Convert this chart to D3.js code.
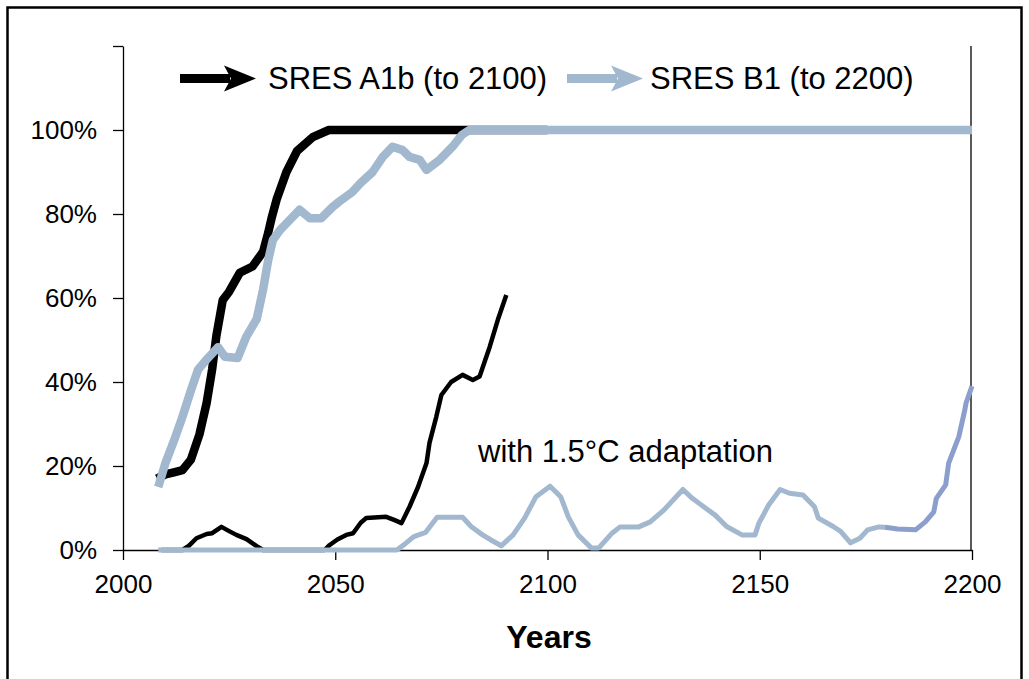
<!DOCTYPE html>
<html>
<head>
<meta charset="utf-8">
<script src="https://cdn.jsdelivr.net/npm/d3@7"></script>
<style>
	body { margin: 0; background: #fff; }
	svg text { font-family: "Liberation Sans", Arial, Helvetica, sans-serif; fill: #000; }
</style>
</head>
<body>
<svg id="chart" width="1029" height="679"></svg>
<script>
'use strict';

var BLACK = "#000000";
var BLUE = "#a1b8cf";
var PURPLE = "#8c9ecb";

// x axis / y axis ticks
var yearTicks = [2000, 2050, 2100, 2150, 2200];
var pctTicks = [0, 20, 40, 60, 80, 100, 120];

// SRES A1b (to 2100), no adaptation
var a1bYears = [2008, 2010, 2012, 2014, 2016, 2018, 2019.7, 2021, 2022, 2023.5, 2025, 2027.5, 2030.5, 2033, 2034.2, 2035, 2036.2, 2038.5, 2041, 2044.7, 2048.5, 2100];
var a1bValues = [17, 18, 18.5, 19, 21.5, 27.5, 35, 43, 51, 59.5, 61.5, 66, 67.5, 71, 75.5, 79, 83.5, 90, 95, 98.3, 100, 100];

// SRES B1 (to 2200), no adaptation
var b1Years = [2008.3, 2010, 2012, 2014, 2016, 2017.7, 2020, 2022.4, 2024, 2027, 2029, 2031.5, 2033, 2034.2, 2035.3, 2037, 2039.3, 2041.6, 2044, 2046.7, 2049.4, 2051, 2054, 2056, 2058.8, 2061.2, 2063.5, 2065.9, 2067.5, 2069.9, 2071.5, 2074.6, 2077.6, 2079.8, 2081.6, 2200];
var b1Values = [15, 20.7, 26, 31.7, 38, 43, 45.7, 48.3, 46, 45.7, 50.7, 55, 62, 69, 73.8, 76.2, 78.6, 81, 79, 79, 81.7, 83, 85.2, 87.4, 90, 93.6, 96, 95.2, 93.6, 92.9, 90.5, 92.9, 96, 98.8, 100, 100];

// A1b with 1.5°C adaptation
var a1bAdaptYears = [2009, 2014, 2015.5, 2017.3, 2019.7, 2021, 2023.2, 2025, 2026.7, 2029.1, 2031.8, 2033, 2047.5, 2048.7, 2050.5, 2052.6, 2054.2, 2056, 2057.3, 2062, 2064, 2065.6, 2067.5, 2069.5, 2071.5, 2072.2, 2073.8, 2075, 2077.3, 2080, 2082.4, 2084, 2086.4, 2088.3, 2090.3];
var a1bAdaptValues = [0, 0, 1, 2.8, 3.8, 4, 5.5, 4.5, 3.6, 2.6, 0.7, 0, 0, 1.2, 2.5, 3.6, 4, 6.5, 7.6, 7.9, 7.1, 6.4, 10.3, 15, 20.7, 25.5, 31.7, 36.9, 40, 41.7, 40.5, 41.3, 48.4, 54.8, 60.7];

// B1 with 1.5°C adaptation
var b1AdaptYears = [2008.3, 2064.5, 2066.5, 2068.5, 2071.3, 2074, 2080, 2082, 2084.7, 2087, 2089.1, 2091.9, 2094.6, 2097.3, 2100.6, 2103.1, 2104.9, 2107.2, 2110.3, 2112.1, 2115.2, 2117.1, 2121.5, 2124.2, 2127.4, 2131.9, 2134.1, 2136.8, 2139.5, 2142.2, 2145.8, 2148.9, 2149.8, 2152.1, 2154.8, 2157, 2160.2, 2162.9, 2163.8, 2167.3, 2169.1, 2171.4, 2173.6, 2175.4, 2178.1, 2179.5];
var b1AdaptValues = [0, 0, 1.5, 3.2, 4.2, 7.8, 7.8, 5.6, 3.6, 2.2, 1, 3.6, 7.6, 12.7, 15.2, 12.7, 7.9, 3.6, 0.5, 0.5, 4, 5.5, 5.5, 6.7, 9.5, 14.4, 12.3, 10.3, 8.3, 5.6, 3.6, 3.6, 6.4, 10.7, 14.4, 13.5, 13.1, 10.3, 7.6, 5.6, 4.4, 1.7, 2.8, 4.8, 5.5, 5.4];

// last stretch of the adaptation curve (drawn in a different tint)
var tailYears = [2179.5, 2182.5, 2186.7, 2189, 2191, 2191.6, 2193.8, 2194.5, 2196.9, 2198.3, 2198.6, 2200];
var tailValues = [5.4, 5, 4.8, 6.7, 9.1, 12.3, 15.5, 20.7, 27, 33.3, 35, 39];

var legendLabels = ["SRES A1b (to 2100)", "SRES B1 (to 2200)"];

var svg = d3.select("#chart");

var x = d3.scaleLinear()
	.domain([2000, 2200])
	.range([123, 972]);

var y = d3.scaleLinear()
	.domain([0, 120])
	.range([550, 46]);

// outer frame
svg.append("rect")
	.attr("x", 7.5)
	.attr("y", 7.5)
	.attr("width", 1014)
	.attr("height", 700)
	.attr("fill", "none")
	.attr("stroke", "#000")
	.attr("stroke-width", 2.5);

// axes
var yAxis = svg.append("g")
	.attr("transform", "translate(" + x(2000) + ",0)")
	.call(d3.axisLeft(y)
		.tickValues(pctTicks)
		.tickSize(10)
		.tickSizeOuter(0)
		.tickPadding(16)
		.tickFormat(function (d) { return d === 120 ? "" : d + "%"; }));

var xAxis = svg.append("g")
	.attr("transform", "translate(0," + y(0) + ")")
	.call(d3.axisBottom(x)
		.tickValues(yearTicks)
		.tickSize(10)
		.tickSizeOuter(0)
		.tickPadding(15)
		.tickFormat(d3.format("d")));

[yAxis, xAxis].forEach(function (g) {
	g.attr("font-family", null).attr("font-size", null);
	g.selectAll("path, line").attr("stroke", "#000").attr("stroke-width", 1.3);
	g.selectAll("text").style("font-size", "26px");
});

// right-hand border of the plot
svg.append("line")
	.attr("x1", x(2200) - 1)
	.attr("x2", x(2200) - 1)
	.attr("y1", y(120))
	.attr("y2", y(0))
	.attr("stroke", "#000")
	.attr("stroke-width", 1.3);

var line = d3.line()
	.x(function (d) { return x(d[0]); })
	.y(function (d) { return y(d[1]); });

function drawSeries(years, values, color, width) {
	svg.append("path")
		.datum(d3.zip(years, values))
		.attr("d", line)
		.attr("fill", "none")
		.attr("stroke", color)
		.attr("stroke-width", width)
		.attr("stroke-linejoin", "round")
		.attr("stroke-linecap", "butt");
}

drawSeries(a1bAdaptYears, a1bAdaptValues, BLACK, 4.5);
drawSeries(b1AdaptYears, b1AdaptValues, BLUE, 5);
drawSeries(tailYears, tailValues, PURPLE, 5);
drawSeries(a1bYears, a1bValues, BLACK, 8.5);
drawSeries(b1Years, b1Values, BLUE, 8.5);

// legend
function legendArrow(x0, yc, color) {
	svg.append("line")
		.attr("x1", x0)
		.attr("x2", x0 + 50)
		.attr("y1", yc)
		.attr("y2", yc)
		.attr("stroke", color)
		.attr("stroke-width", 9);
	svg.append("path")
		.attr("d", "M" + (x0 + 44) + "," + (yc - 13) +
			"L" + (x0 + 76) + "," + yc +
			"L" + (x0 + 44) + "," + (yc + 13) +
			"L" + (x0 + 51) + "," + yc + "Z")
		.attr("fill", color);
}

legendArrow(180, 78.5, BLACK);
legendArrow(567, 78.5, BLUE);

svg.append("text")
	.attr("x", 268)
	.attr("y", 89)
	.style("font-size", "31px")
	.text(legendLabels[0]);

svg.append("text")
	.attr("x", 650)
	.attr("y", 89)
	.style("font-size", "31px")
	.text(legendLabels[1]);

// annotation
svg.append("text")
	.attr("x", 478)
	.attr("y", 462)
	.style("font-size", "31px")
	.text("with 1.5°C adaptation");

// axis title
svg.append("text")
	.attr("x", 549)
	.attr("y", 648)
	.attr("text-anchor", "middle")
	.style("font-size", "32px")
	.style("font-weight", "bold")
	.text("Years");
</script>
</body>
</html>
